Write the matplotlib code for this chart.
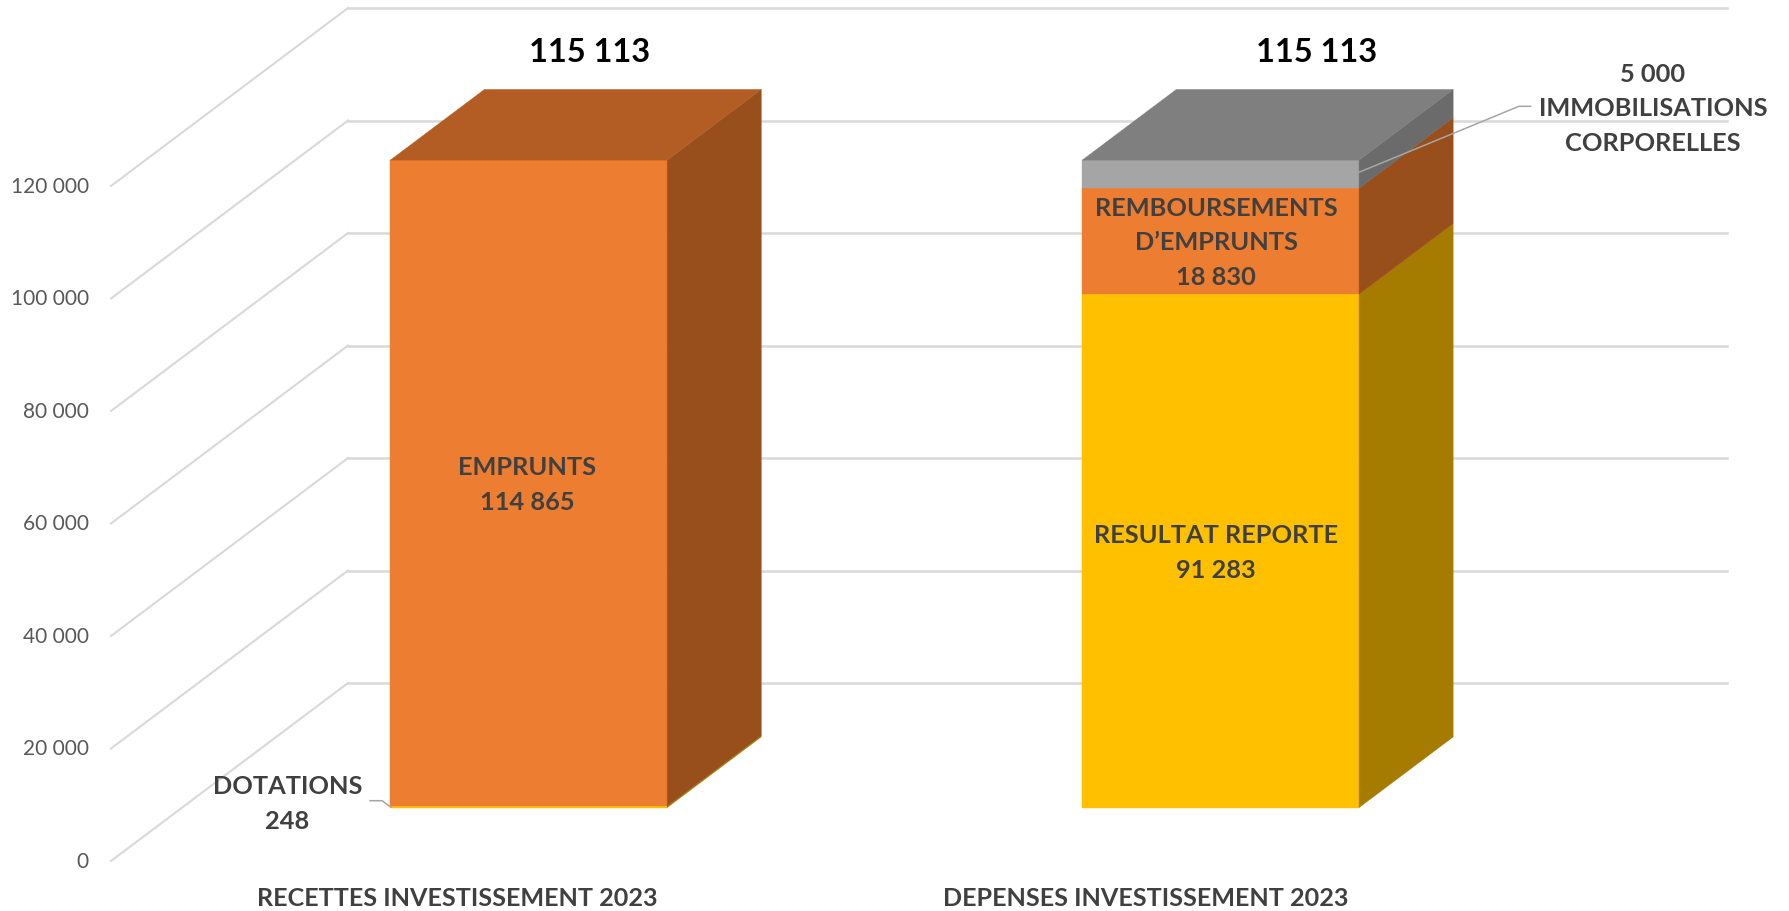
import matplotlib
matplotlib.use("Agg")
import matplotlib.pyplot as plt

plt.rcParams["font.family"] = ["Lato", "DejaVu Sans"]

categories = ["RECETTES INVESTISSEMENT 2023", "DEPENSES INVESTISSEMENT 2023"]
recettes = [248, 114865]
depenses = [91283, 18830, 5000]
totals = ["115 113", "115 113"]
yticks = [0, 20000, 40000, 60000, 80000, 100000, 120000]
ytick_labels = ["0", "20 000", "40 000", "60 000", "80 000", "100 000", "120 000"]

W, H = 1789, 912
# fake 3d: how far one unit of depth moves a point
DX = 0.3425
DY = 31640
Z0, Z1 = 0.30, 0.697
BAR_W = 0.40

ORANGE = ("#ED7D31", "#984F1C", "#B35D25")
YELLOW = ("#FFC000", "#A67C00", "#BF9000")
GREY = ("#A5A5A5", "#6B6B6B", "#7F7F7F")

fig = plt.figure(figsize=(W / 100, H / 100), dpi=100)
ax = fig.add_axes([111 / W, (H - 862) / H, 1379 / W, 675 / H])
ax.set_xlim(-0.501, 1.492)
ax.set_ylim(0, 120000)
for s in ax.spines.values():
    s.set_visible(False)


def px(x, y):
    # picture pixel to data, for label anchors and leaders
    return (x - 457.6) / 692, (862 - y) * 20000 / 112.5


def proj(x, v, z):
    return x + z * DX, v + z * DY


# walls
x_left, x_right = ax.get_xlim()
for v in yticks:
    ax.plot([x_left, x_left + DX], [v, v + DY], color="#D9D9D9", lw=1.5, clip_on=False, zorder=1)
    ax.plot([x_left + DX, x_right + DX], [v + DY, v + DY], color="#D9D9D9", lw=1.8, clip_on=False, zorder=1)


def stack(c, values, styles):
    l, r = c - BAR_W / 2, c + BAR_W / 2
    base = 0
    for v, (front, side, top) in zip(values, styles):
        t = base + v
        ax.fill(*zip(proj(l, base, Z0), proj(r, base, Z0), proj(r, t, Z0), proj(l, t, Z0)),
                color=front, lw=0.3, clip_on=False, zorder=3)
        ax.fill(*zip(proj(r, base, Z0), proj(r, base, Z1), proj(r, t, Z1), proj(r, t, Z0)),
                color=side, lw=0.3, clip_on=False, zorder=3)
        base = t
    ax.fill(*zip(proj(l, base, Z0), proj(r, base, Z0), proj(r, base, Z1), proj(l, base, Z1)),
            color=styles[-1][2], lw=0.3, clip_on=False, zorder=3)


stack(0, recettes, [YELLOW, ORANGE])
stack(1, depenses, [YELLOW, ORANGE, GREY])

ax.set_yticks(yticks, ytick_labels, fontsize=15, color="#595959", va="center")
ax.set_xticks([-0.001, 0.995], categories, fontsize=18.1, fontweight="bold", color="#404040")
ax.tick_params(axis="y", length=0, pad=16)
ax.tick_params(axis="x", length=0, pad=18)


def label(text, x, y, color="#404040", size=18.3, spacing=1.6):
    ax.text(*px(x, y), text, ha="center", va="center", fontsize=size, fontweight="bold",
            color=color, linespacing=spacing, zorder=5, clip_on=False)


label("EMPRUNTS\n%d %03d" % (recettes[1] // 1000, recettes[1] % 1000), 527, 485)
label("DOTATIONS\n%d" % recettes[0], 287.5, 804)
label("RESULTAT REPORTE\n%d %03d" % (depenses[0] // 1000, depenses[0] % 1000), 1216, 553)
label("REMBOURSEMENTS\nD\u2019EMPRUNTS\n%d %03d" % (depenses[1] // 1000, depenses[1] % 1000), 1216, 243)
label("%d %03d\nIMMOBILISATIONS\nCORPORELLES" % (depenses[2] // 1000, depenses[2] % 1000), 1653, 109)
label(totals[0], 590, 53, color="black", size=23.5)
label(totals[1], 1316.7, 53, color="black", size=23.5)

# leaders
for pts in ([(370, 801.7), (382, 801.7), (390.6, 808)], [(1530.7, 107.3), (1519, 107.3), (1359, 173.3)]):
    xy = [px(*p) for p in pts]
    ax.plot([p[0] for p in xy], [p[1] for p in xy], color="#A6A6A6", lw=1.1, clip_on=False, zorder=4)

fig.savefig("out.png", dpi=100)
